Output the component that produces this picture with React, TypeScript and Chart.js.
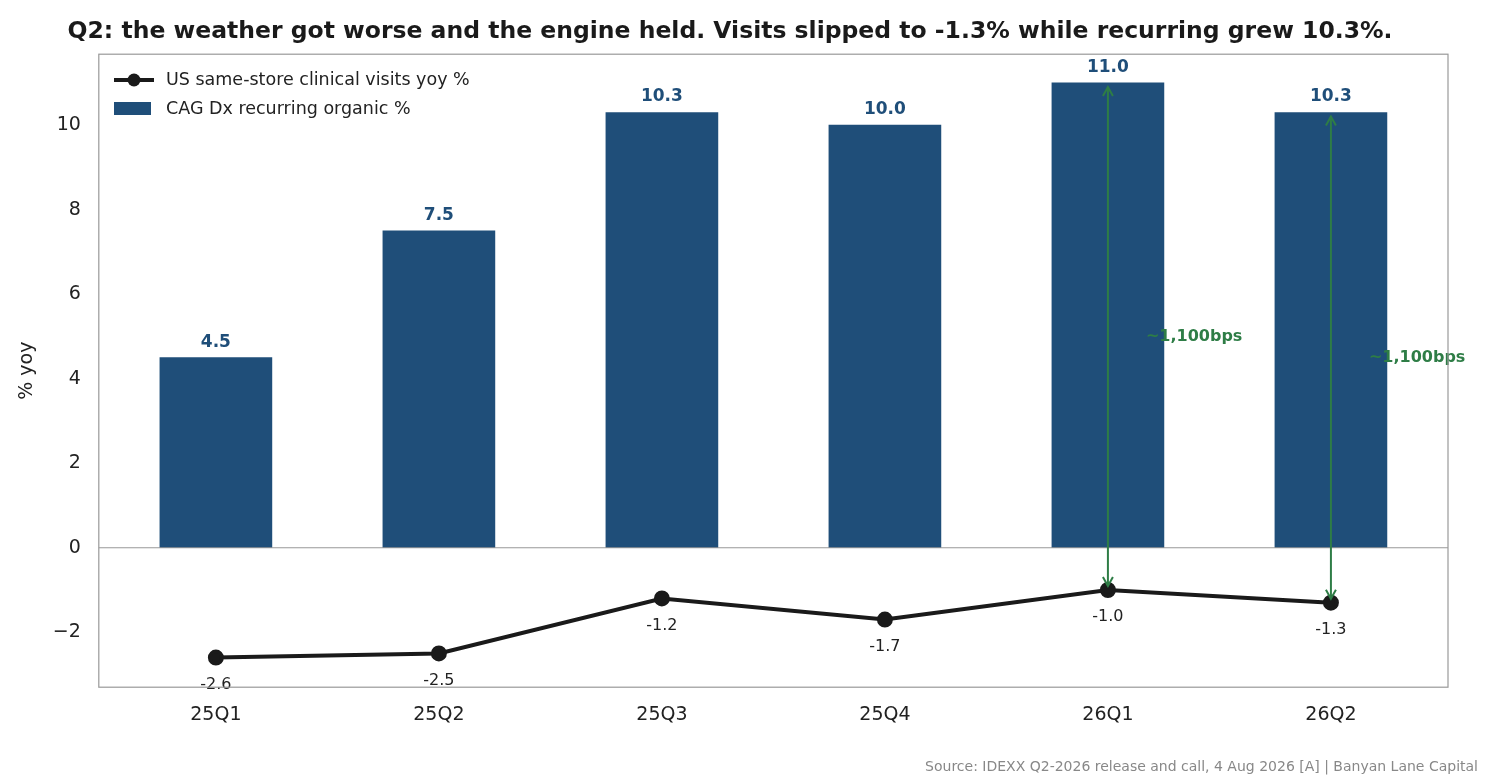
import React, { useEffect, useRef } from "react";
import { Chart, registerables } from "chart.js";
Chart.register(...registerables);

const categories = ["25Q1", "25Q2", "25Q3", "25Q4", "26Q1", "26Q2"];
const recurring = [4.5, 7.5, 10.3, 10.0, 11.0, 10.3];
const visits = [-2.6, -2.5, -1.2, -1.7, -1.0, -1.3];
const arrowIdx = [4, 5];
const arrowLabel = "~1,100bps";
const yTicks = [-2, 0, 2, 4, 6, 8, 10];

const BLUE = "#1f4e79";
const GREEN = "#2e7d46";
const FONT = "'DejaVu Sans', sans-serif";

const overlay = {
  id: "overlay",
  afterDatasetsDraw(chart: any) {
    const { ctx, scales, chartArea } = chart;
    const x = scales.x, y = scales.y;
    ctx.save();
    ctx.strokeStyle = "#999";
    ctx.lineWidth = 1.2;
    ctx.beginPath();
    ctx.moveTo(chartArea.left, y.getPixelForValue(0));
    ctx.lineTo(chartArea.right, y.getPixelForValue(0));
    ctx.stroke();
    ctx.font = `bold 17px ${FONT}`;
    ctx.fillStyle = BLUE;
    ctx.textAlign = "center";
    ctx.textBaseline = "bottom";
    recurring.forEach((v, i) => ctx.fillText(v.toFixed(1), x.getPixelForValue(i), y.getPixelForValue(v) - 7));
    ctx.font = `16px ${FONT}`;
    ctx.fillStyle = "#222";
    ctx.textBaseline = "top";
    visits.forEach((v, i) => ctx.fillText(v.toFixed(1), x.getPixelForValue(i), y.getPixelForValue(v) + 19));
    ctx.strokeStyle = GREEN;
    ctx.fillStyle = GREEN;
    ctx.lineWidth = 2;
    arrowIdx.forEach((i) => {
      const px = x.getPixelForValue(i);
      const y1 = y.getPixelForValue(recurring[i]) + 4;
      const y2 = y.getPixelForValue(visits[i]) - 4;
      ctx.beginPath();
      ctx.moveTo(px, y1); ctx.lineTo(px, y2); ctx.stroke();
      const head = (yy: number, d: number) => {
        ctx.beginPath();
        ctx.moveTo(px - 5, yy + d * 9); ctx.lineTo(px, yy); ctx.lineTo(px + 5, yy + d * 9);
        ctx.stroke();
      };
      head(y1, 1); head(y2, -1);
      ctx.font = `bold 16px ${FONT}`;
      ctx.textAlign = "left";
      ctx.textBaseline = "middle";
      ctx.fillText(arrowLabel, px + 38, y.getPixelForValue((recurring[i] + visits[i]) / 2));
    });
    ctx.strokeStyle = "#999";
    ctx.lineWidth = 1.2;
    ctx.strokeRect(chartArea.left, chartArea.top, chartArea.right - chartArea.left, chartArea.bottom - chartArea.top);
    ctx.font = `14px ${FONT}`;
    ctx.fillStyle = "#888";
    ctx.textAlign = "right";
    ctx.textBaseline = "alphabetic";
    ctx.fillText("Source: IDEXX Q2-2026 release and call, 4 Aug 2026 [A] | Banyan Lane Capital", 1478, 771);
    ctx.restore();
  },
};

export default function App() {
  const ref = useRef<HTMLCanvasElement>(null);
  useEffect(() => {
    document.body.style.margin = "0";
    const chart = new Chart(ref.current!, {
      type: "bar",
      data: {
        datasets: [
          {
            type: "line",
            label: "US same-store clinical visits yoy %",
            data: visits.map((v, i) => ({ x: i, y: v })),
            borderColor: "#1a1a1a",
            backgroundColor: "#1a1a1a",
            borderWidth: 4,
            pointRadius: 6,
            pointHoverRadius: 6,
            order: 0,
          } as any,
          {
            type: "bar",
            label: "CAG Dx recurring organic %",
            data: recurring.map((v, i) => ({ x: i, y: v })),
            backgroundColor: BLUE,
            barThickness: 112,
            order: 1,
          },
        ],
      },
      options: {
        responsive: false,
        animation: false,
        layout: { padding: { left: 12, right: 52, top: 0, bottom: 46 } },
        plugins: {
          title: {
            display: true,
            text: "Q2: the weather got worse and the engine held. Visits slipped to -1.3% while recurring grew 10.3%.",
            font: { family: FONT, size: 23.5, weight: "bold" },
            color: "#1a1a1a",
            padding: { top: 18, bottom: 8 },
            align: "center",
          },
          legend: { display: false },
          tooltip: { enabled: false },
        },
        scales: {
          x: {
            type: "linear",
            offset: false,
            min: -0.525,
            max: 5.525,
            grid: { display: false },
            border: { display: false },
            afterBuildTicks: (s: any) => { s.ticks = categories.map((_, i) => ({ value: i })); },
            ticks: {
              callback: (v: any) => categories[v as number],
              font: { family: FONT, size: 19 },
              color: "#222",
              maxRotation: 0,
              padding: 8,
            },
          },
          y: {
            min: -3.3,
            max: 11.68,
            grid: { display: false },
            border: { display: false },
            afterBuildTicks: (s: any) => { s.ticks = yTicks.map((v) => ({ value: v })); },
            ticks: {
              callback: (v: any) => (v < 0 ? "\u2212" + Math.abs(v) : String(v)),
              font: { family: FONT, size: 19 },
              color: "#222",
              padding: 10,
            },
            title: { display: true, text: "% yoy", font: { family: FONT, size: 19 }, color: "#222" },
          },
        },
      },
      plugins: [overlay],
    } as any);
    return () => chart.destroy();
  }, []);
  return (
    <div style={{ position: "relative", width: 1500, height: 780 }}>
      <canvas ref={ref} width={1500} height={780} />
      <div style={{ position: "absolute", left: 104, top: 63, padding: "2px 10px", fontFamily: FONT, fontSize: 17.5, color: "#222", lineHeight: "29px" }}>
        <div style={{ display: "flex", alignItems: "center" }}>
          <svg width="40" height="16" style={{ marginRight: 12 }}>
            <line x1="0" y1="8" x2="40" y2="8" stroke="#1a1a1a" strokeWidth="4" />
            <circle cx="20" cy="8" r="6.5" fill="#1a1a1a" />
          </svg>
          US same-store clinical visits yoy %
        </div>
        <div style={{ display: "flex", alignItems: "center" }}>
          <div style={{ width: 37, height: 13, background: BLUE, marginRight: 15 }} />
          CAG Dx recurring organic %
        </div>
      </div>
    </div>
  );
}
